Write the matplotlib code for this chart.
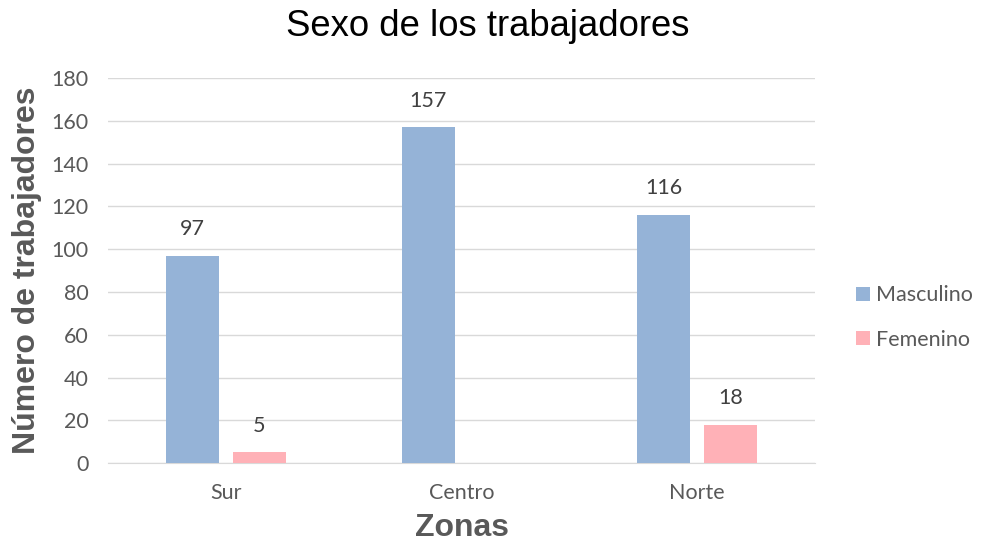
import matplotlib
matplotlib.use("Agg")
import matplotlib.pyplot as plt
import numpy as np

categories = ["Sur", "Centro", "Norte"]
masculino = [97, 157, 116]
femenino = [5, 0, 18]
series_names = ["Masculino", "Femenino"]
yticks = [0, 20, 40, 60, 80, 100, 120, 140, 160, 180]

col_m = "#95B3D7"
col_f = "#FFB1B7"
txt = "#595959"
tick_font = "Lato"
title_font = "Liberation Sans"
fs = 15.5

fig = plt.figure(figsize=(9.82, 5.5), dpi=100)
ax = fig.add_axes([0.110, 0.158, 0.720, 0.700])

x = np.arange(len(categories))
w = 0.225
off = 0.142
bm = ax.bar(x - off, masculino, w, color=col_m, label=series_names[0], zorder=3)
bf = ax.bar(x + off, femenino, w, color=col_f, label=series_names[1], zorder=3)

for bars, vals in ((bm, masculino), (bf, femenino)):
    for rect, v in zip(bars, vals):
        if v:
            ax.text(rect.get_x() + rect.get_width() / 2, v + 12.5, str(v), ha="center",
                    va="center", fontsize=fs, color="#404040", family=tick_font)

ax.set_xlim(-0.5, 2.5)
ax.set_ylim(0, 180)
ax.set_yticks(yticks)
ax.set_xticks(x)
ax.set_xticklabels(categories)
ax.grid(axis="y", color="#D9D9D9", linewidth=1, zorder=0)
for s in ["top", "right", "left"]:
    ax.spines[s].set_visible(False)
ax.spines["bottom"].set_color("#D9D9D9")
ax.tick_params(axis="y", length=0, labelsize=fs, labelcolor=txt, pad=14)
ax.tick_params(axis="x", length=0, labelsize=fs, labelcolor=txt, pad=14)
for lab in ax.get_xticklabels() + ax.get_yticklabels():
    lab.set_family(tick_font)

fig.text(487.5 / 982, 1 - 27 / 550, "Sexo de los trabajadores", fontsize=26.3,
         family=title_font, color="black", ha="center", va="center")
fig.text(27 / 982, 1 - 270 / 550, "Número de trabajadores", fontsize=23, fontweight="bold",
         family=title_font, color=txt, ha="center", va="center", rotation=90)
fig.text(462 / 982, 1 - 528 / 550, "Zonas", fontsize=23, fontweight="bold",
         family=title_font, color=txt, ha="center", va="center")

leg = fig.legend(handles=[bm, bf], labels=series_names, loc="center left",
                 bbox_to_anchor=(856 / 982, 1 - 317.5 / 550), frameon=False,
                 handlelength=0.65, handleheight=0.65, handletextpad=0.3, labelspacing=1.12,
                 borderpad=0, borderaxespad=0,
                 prop={"family": tick_font, "size": fs})
for t in leg.get_texts():
    t.set_color(txt)

fig.savefig("out.png", dpi=100)
